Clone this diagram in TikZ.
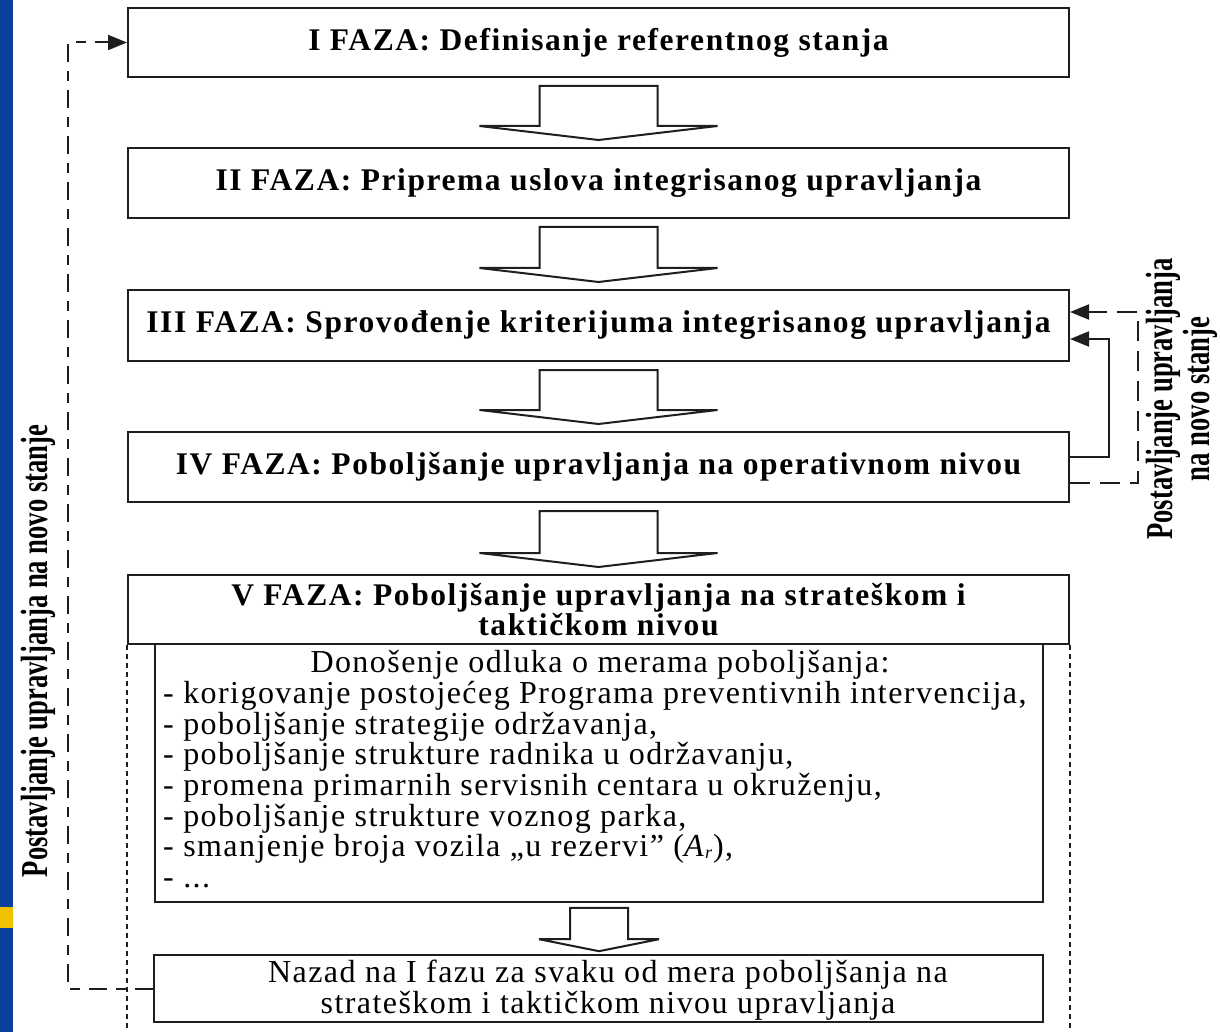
\documentclass[tikz,border=0pt]{standalone}
\usepackage{fontspec}
\setmainfont{Liberation Serif}
\newfontfamily\ttlspaced[LetterSpace=5]{Liberation Serif}
\newfontfamily\txtspaced[LetterSpace=4.5]{Liberation Serif}
\usetikzlibrary{arrows.meta,calc}
\definecolor{bluebar}{RGB}{12,62,160}
\definecolor{yellowbar}{RGB}{242,194,0}
\definecolor{ink}{RGB}{30,30,30}
\newcommand\ttlfont{\ttlspaced\bfseries\fontsize{31.5}{30}\selectfont}
\newcommand\txtfont{\txtspaced\fontsize{32}{30.7}\selectfont}
\newcommand\backfont{\txtspaced\fontsize{32}{31}\selectfont}
\newcommand\lblfont{\bfseries\fontsize{38}{37}\selectfont}
\tikzset{
  x=1pt, y=-1pt,
  phase/.style={draw=ink, line width=2pt, minimum width=941pt, inner sep=0pt, align=center, font=\ttlfont},
  barrow/.style={draw=ink, line width=2pt, fill=white, line join=miter},
  conn/.style={draw=ink, line width=2pt},
  loopdash/.style={draw=ink, line width=2pt, dash pattern=on 18pt off 9pt on 10pt off 9pt},
  rdash/.style={draw=ink, line width=2pt, dash pattern=on 20pt off 10pt},
  vdots/.style={draw=ink, line width=1.7pt, dash pattern=on 5pt off 4pt},
  tip/.style={-{Triangle[length=19pt,width=15pt]}},
}
% #1 from, #2 to, #3 half stem, #4 half wing, #5 head height, #6 top gap, #7 tip gap
\newcommand\blockarrow[7]{%
  \draw[barrow] let \p1=(#1.south), \p2=(#2.north) in
    (\x1-#3pt,\y1-#6pt) -- (\x1-#3pt,\y2+#5pt+#7pt) -- (\x1-#4pt,\y2+#5pt+#7pt)
    -- (\x1,\y2+#7pt) -- (\x1+#4pt,\y2+#5pt+#7pt) -- (\x1+#3pt,\y2+#5pt+#7pt)
    -- (\x1+#3pt,\y1-#6pt) -- cycle;}
\begin{document}
\begin{tikzpicture}
\useasboundingbox (0,0) rectangle (1220,1032);
\fill[white] (0,0) rectangle (1220,1032);
% left decorative bar
\fill[bluebar] (0,0) rectangle (13,1032);
\fill[yellowbar] (0,907) rectangle (13,928);

% phase boxes
\node[phase, minimum height=69pt] (b1) at (598.5,42.5) {I FAZA: Definisanje referentnog stanja};
\node[phase, minimum height=70pt] (b2) at (598.5,183) {II FAZA: Priprema uslova integrisanog upravljanja};
\node[phase, minimum height=71pt] (b3) at (598.5,325.5) {III FAZA: Sprovođenje kriterijuma integrisanog upravljanja};
\node[phase, minimum height=70pt] (b4) at (598.5,467) {IV FAZA: Poboljšanje upravljanja na operativnom nivou};
\node[phase, minimum height=69pt] (b5) at (598.5,609.5) {V FAZA: Poboljšanje upravljanja na strateškom i\\taktičkom nivou};

% inner decision box
\node[draw=ink, line width=1.6pt, minimum width=888pt, minimum height=258pt, inner sep=0pt] (dec) at (599,773) {};
\node[inner sep=0pt, font=\txtfont] (dechead) at (600,665) {Donošenje odluka o merama poboljšanja:};
\node[anchor=north west, inner sep=0pt, align=left, font=\txtfont] (dectext) at (163,681)
{- korigovanje postojećeg Programa preventivnih intervencija,\\
- poboljšanje strategije održavanja,\\
- poboljšanje strukture radnika u održavanju,\\
- promena primarnih servisnih centara u okruženju,\\
- poboljšanje strukture voznog parka,\\
- smanjenje broja vozila „u rezervi” (\textit{A}\raisebox{-2pt}{\fontsize{18}{18}\selectfont\textit{r}}),\\
- ...};

% back box
\node[draw=ink, line width=1.6pt, minimum width=889pt, minimum height=67pt, inner sep=0pt] (back) at (598.5,988.5) {};
\node[inner sep=0pt, align=center, font=\backfont] (backtext) at (608,990)
{Nazad na I fazu za svaku od mera poboljšanja na\\strateškom i taktičkom nivou upravljanja};

% block arrows
\blockarrow{b1}{b2}{59}{119}{14}{8}{7}
\blockarrow{b2}{b3}{59}{119}{14}{8}{7}
\blockarrow{b3}{b4}{59}{119}{14}{8}{7}
\blockarrow{b4}{b5}{59}{119}{14}{8}{7}
\blockarrow{dec}{back}{29}{60}{12}{5}{3}

% dotted frame lines of phase V
\coordinate (bottom) at (0,1032);
\draw[vdots] (b5.south west) -- (b5.south west |- bottom);
\draw[vdots] (b5.south east) -- (b5.south east |- bottom);

% left feedback loop
\coordinate (lx) at (68,0);
\draw[loopdash, tip] (back.west) -- (back.west -| lx) -- (b1.west -| lx) -- (b1.west);

% right feedback loops
\coordinate (rs) at (1109,0);
\coordinate (rd) at (1138,0);
\draw[conn, tip] ([yshift=10pt]b4.east) -- ([yshift=10pt]b4.east -| rs) -- ([yshift=-13.5pt]b3.east -| rs) -- ([yshift=-13.5pt]b3.east);
\draw[rdash, tip] ([yshift=-16pt]b4.east) -- ([yshift=-16pt]b4.east -| rd) -- ([yshift=13.5pt]b3.east -| rd) -- ([yshift=13.5pt]b3.east);

% rotated labels
\node[rotate=90, inner sep=0pt, font=\lblfont] (llabel) at (38,651) {\scalebox{0.7}[1]{Postavljanje upravljanja na novo stanje}};
\node[rotate=90, inner sep=0pt, font=\lblfont, align=center] (rlabel) at (1182,399) {\scalebox{0.7}[1]{Postavljanje upravljanja}\\\scalebox{0.7}[1]{na novo stanje}};
\end{tikzpicture}
\end{document}
